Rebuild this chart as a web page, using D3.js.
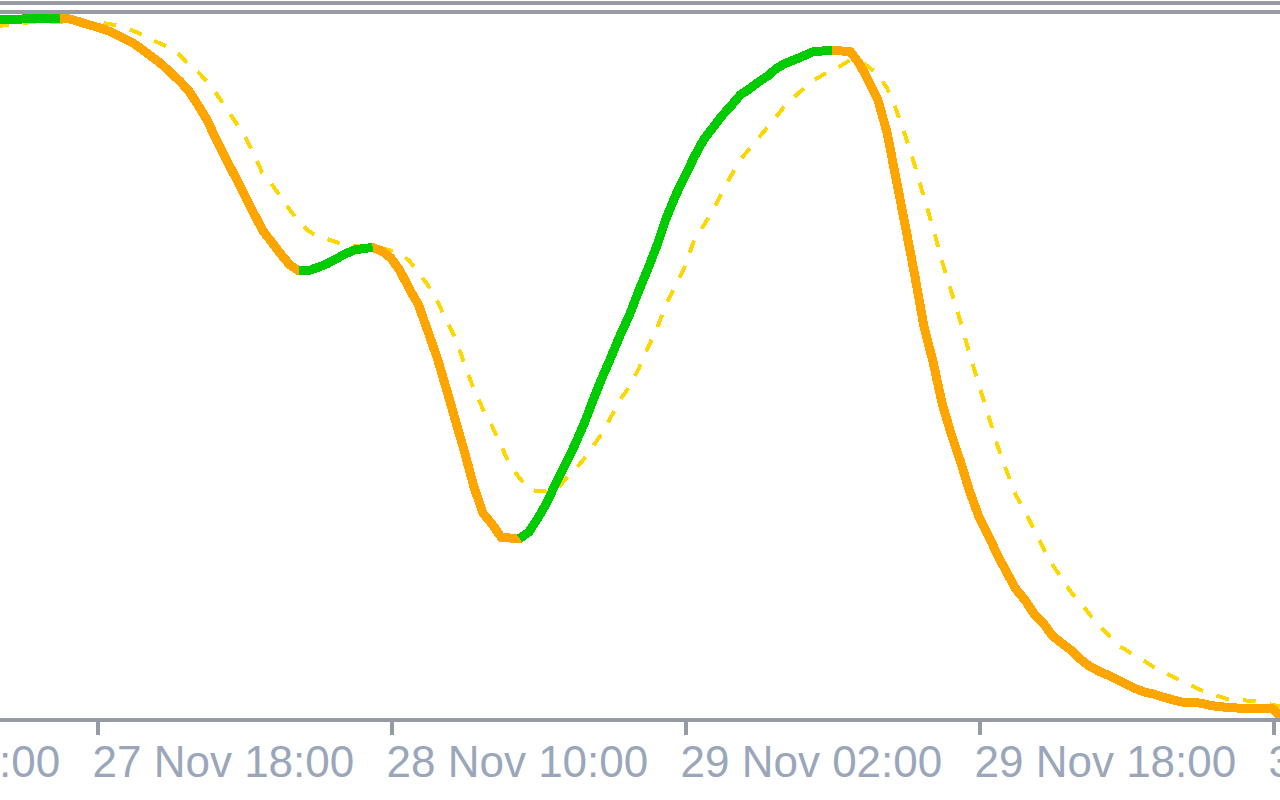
<!DOCTYPE html>
<html>
<head>
<meta charset="utf-8">
<script src="https://cdn.jsdelivr.net/npm/d3@7"></script>
<style>
html,body{margin:0;padding:0;background:#fff;overflow:hidden;}
svg{display:block;}
</style>
</head>
<body>
<svg id="chart" width="1280" height="800"></svg>
<script>
// ---- data (30-minute bars, first bar = 27 Nov 12:30) ----
const firstBarTime = new Date(2023, 10, 27, 12, 30);
const barMinutes = 30;

const mainValues = [
  99.77, 99.80, 99.83, 99.86, 99.89, 99.91, 99.94, 99.97,
  99.86, 99.5, 99.07,
  98.71, 98.29, 97.71, 97.0, 96.36, 95.43, 94.43, 93.43, 92.21, 91.0,
  89.57, 87.57, 85.36, 82.57, 80.0, 77.43, 74.86, 72.29, 69.71, 68.0,
  66.29, 64.71, 63.86, 63.89, 64.36, 64.86, 65.57, 66.29, 66.86, 67.07,
  67.21, 66.71, 65.71, 63.86, 61.29, 59.0, 55.29, 51.57, 47.14, 42.57,
  38.0, 33.14, 29.29, 27.71, 25.79, 25.71, 25.64, 26.57, 28.57, 30.86,
  33.71, 36.29, 39.0, 42.0, 45.43, 48.71, 51.71, 54.86, 57.71, 61.14,
  64.29, 67.71, 71.57, 74.71, 77.43, 80.14, 82.57, 84.29, 86.0, 87.43,
  89.0, 89.86, 90.86, 91.71, 92.86, 93.57, 94.07, 94.64, 95.21, 95.29,
  95.36, 95.29, 95.21, 93.43, 91.0, 88.29, 83.57, 76.86, 70.14, 63.29,
  56.0, 50.86, 44.86, 40.43, 36.57, 32.29, 28.71, 26.14, 23.29, 20.86,
  18.43, 16.86, 14.86, 13.57, 11.71, 10.71, 9.71, 8.43, 7.43, 6.71,
  6.14, 5.5, 4.86, 4.21, 3.71, 3.43, 3.0, 2.64, 2.29, 2.21,
  2.14, 1.86, 1.64, 1.53, 1.43, 1.40, 1.37, 1.34, 1.31, 0.0
];

const signalValues = [
  98.71, 99.0, 99.14, 99.29, 99.43, 99.5, 99.5, 99.5,
  99.5, 99.5, 99.5,
  99.43, 99.21, 99.0, 98.64, 98.14, 97.57, 96.86, 96.29, 95.71, 94.71,
  93.29, 92.29, 90.86, 89.14, 87.29, 85.29, 83.29, 80.71, 77.86, 76.29,
  74.43, 72.57, 70.86, 69.57, 68.86, 68.43, 68.0, 67.5, 67.43, 67.39,
  67.36, 67.07, 66.79, 66.43, 65.29, 63.57, 61.86, 59.71, 56.86, 54.29,
  50.57, 47.0, 44.14, 41.71, 38.86, 36.0, 34.29, 32.71, 32.36, 32.43,
  32.57, 34.14, 35.43, 37.0, 38.86, 40.71, 43.14, 45.57, 47.43, 50.0,
  53.0, 55.86, 59.29, 61.86, 64.57, 68.29, 70.29, 72.43, 75.0, 77.43,
  79.71, 81.29, 82.86, 84.43, 86.0, 87.71, 88.86, 90.0, 91.14, 91.86,
  92.57, 93.21, 94.0, 93.86, 93.0, 91.86, 90.0, 86.86, 83.14, 79.0,
  74.43, 70.0, 65.14, 60.86, 56.57, 51.86, 47.57, 43.29, 39.0, 35.29,
  31.86, 29.57, 26.86, 24.29, 21.86, 20.0, 18.0, 16.57, 14.86, 13.29,
  12.0, 10.43, 9.71, 8.86, 8.14, 7.29, 6.64, 6.0, 5.29, 4.71,
  4.07, 3.57, 3.14, 2.71, 2.6, 2.5, 2.43, 2.21, 1.86, 1.57
];

const tickLabels = ["27 Nov 02:00", "27 Nov 18:00", "28 Nov 10:00", "29 Nov 02:00", "29 Nov 18:00", "30 Nov 10:00"];
const tickTimes = [
  new Date(2023, 10, 27, 2, 0), new Date(2023, 10, 27, 18, 0), new Date(2023, 10, 28, 10, 0),
  new Date(2023, 10, 29, 2, 0), new Date(2023, 10, 29, 18, 0), new Date(2023, 10, 30, 10, 0)
];

// ---- drawing ----
const W = 1280, H = 800;
const axisY = 718;
const svg = d3.select("#chart");

const times = mainValues.map((_, i) => new Date(firstBarTime.getTime() + i * barMinutes * 60000));

const x = d3.scaleTime()
  .domain([new Date(2023, 10, 27, 18, 0), new Date(2023, 10, 30, 10, 0)])
  .range([97, 1273]);
const y = d3.scaleLinear().domain([0, 100]).range([axisY, 18]);

const GRAY = "#969aa2";

// top frame lines
svg.append("rect").attr("x", 0).attr("y", 1).attr("width", W).attr("height", 4).attr("fill", GRAY);
svg.append("rect").attr("x", 0).attr("y", 10).attr("width", W).attr("height", 4).attr("fill", GRAY);

svg.append("clipPath").attr("id", "plotclip")
  .append("rect").attr("x", 0).attr("y", 14).attr("width", W).attr("height", axisY - 14);

const plot = svg.append("g").attr("clip-path", "url(#plotclip)");

const pts = mainValues.map((v, i) => ({ t: times[i], v }));
const sig = signalValues.map((v, i) => ({ t: times[i], v }));

const line = d3.line().x(d => x(d.t)).y(d => y(d.v));

// signal (dotted)
plot.append("path")
  .datum(sig)
  .attr("d", line)
  .attr("fill", "none")
  .attr("stroke", "#ffd700")
  .attr("stroke-width", 4)
  .attr("stroke-dasharray", "13,14")
  .attr("shape-rendering", "crispEdges");

// main line: orange everywhere, green over rising runs
plot.append("path")
  .datum(pts)
  .attr("d", line)
  .attr("fill", "none")
  .attr("stroke", "#ffa500")
  .attr("stroke-width", 9)
  .attr("stroke-linejoin", "round")
  .attr("shape-rendering", "crispEdges");

const runs = [];
let cur = null;
for (let i = 1; i < pts.length; i++) {
  if (pts[i].v > pts[i - 1].v) {
    if (!cur) { cur = [pts[i - 1]]; runs.push(cur); }
    cur.push(pts[i]);
  } else {
    cur = null;
  }
}
plot.selectAll("path.up").data(runs).join("path")
  .attr("class", "up")
  .attr("d", line)
  .attr("fill", "none")
  .attr("stroke", "#00cc00")
  .attr("stroke-width", 9)
  .attr("stroke-linejoin", "round")
  .attr("shape-rendering", "crispEdges");

// x axis
svg.append("rect").attr("x", 0).attr("y", axisY).attr("width", W).attr("height", 4).attr("fill", GRAY);

const axis = d3.axisBottom(x)
  .tickValues(tickTimes)
  .tickFormat((d, i) => tickLabels[i])
  .tickSize(14)
  .tickSizeOuter(0);

const gx = svg.append("g")
  .attr("transform", `translate(0.5,${axisY + 3})`)
  .call(axis);
gx.select(".domain").remove();
gx.selectAll(".tick line").attr("stroke", GRAY).attr("stroke-width", 4);
gx.selectAll(".tick text")
  .attr("fill", "#9aa6ba")
  .attr("font-family", "'Liberation Sans', Arial, sans-serif")
  .attr("font-size", 44)
  .attr("text-anchor", "start")
  .attr("x", -5.5)
  .attr("y", 56)
  .attr("dy", 0);
</script>
</body>
</html>
